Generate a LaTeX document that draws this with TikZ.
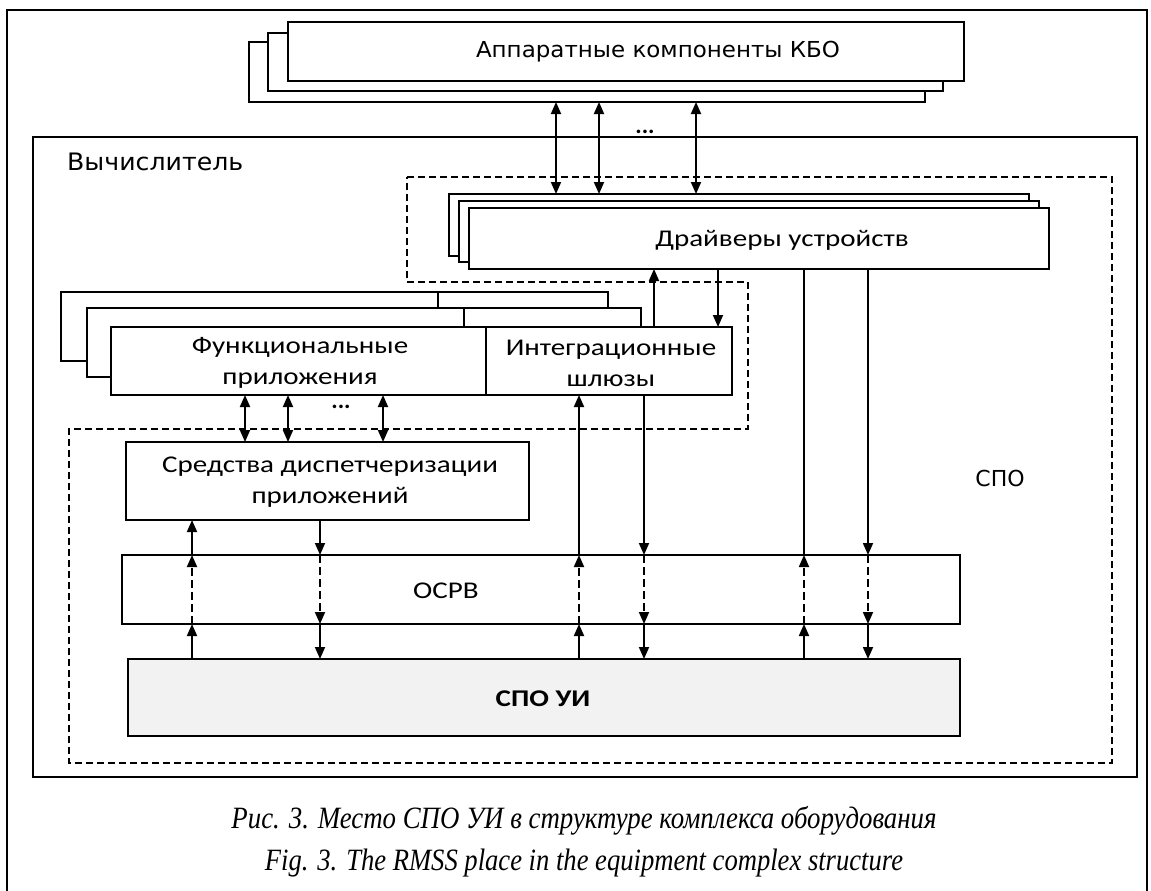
\documentclass[tikz,border=0pt]{standalone}
\usepackage{fontspec}
\setmainfont{Carlito}
\newfontfamily\dvfont{DejaVu Sans}
\newfontfamily\capfont{Liberation Serif}
\usetikzlibrary{arrows.meta}
\newcommand{\cw}[1]{\scalebox{1.21}[1]{#1}}
\newcommand{\fw}[2]{\resizebox{#1}{\height}{#2}}
\begin{document}
\begin{tikzpicture}[x=1pt,y=-1pt,
  box/.style={draw=black, line width=1.6pt, fill=white, inner sep=0pt, outer sep=0pt},
  lbl/.style={inner sep=0pt, font=\fontsize{24}{31}\selectfont, align=center},
  dvlbl/.style={inner sep=0pt, font=\dvfont\fontsize{22}{26}\selectfont},
  caplbl/.style={inner sep=0pt, font=\capfont\itshape\fontsize{31}{32}\selectfont},
  dotlbl/.style={inner sep=0pt, font=\bfseries\fontsize{24}{24}\selectfont},
  spodash/.style={draw=black, line width=2.5pt, dash pattern=on 7pt off 4pt},
  conn/.style={line width=1.8pt},
  arr/.style={conn, -{Triangle[length=12pt,width=10pt]}},
  dbl/.style={conn, {Triangle[length=12pt,width=10pt]}-{Triangle[length=12pt,width=10pt]}},
  darr/.style={arr, dash pattern=on 8pt off 4pt}
]
\useasboundingbox (0,0) rectangle (1151,891);
\fill[white] (0,0) rectangle (1151,891);
% outer frame (open at the bottom)
\draw[line width=1.6pt] (7,891) -- (7,10) -- (1147,10) -- (1147,891);

% column coordinates
\coordinate (a1) at (556,0); \coordinate (a2) at (599,0); \coordinate (a3) at (696,0);
\coordinate (f1) at (245,0); \coordinate (f2) at (288,0); \coordinate (f3) at (383,0);
\coordinate (i1) at (654,0); \coordinate (i2) at (718,0);
\coordinate (u1) at (192,0); \coordinate (d1) at (320,0);
\coordinate (u2) at (579,0); \coordinate (d2) at (644,0);
\coordinate (u3) at (804,0); \coordinate (d3) at (868,0);

% hardware stack
\node[box, minimum width=676pt, minimum height=60pt] (hw3) at (587,72) {};
\node[box, minimum width=675pt, minimum height=58pt] (hw2) at (605.5,62) {};
\node[box, minimum width=676pt, minimum height=59pt] (hw1) at (626,51.5) {};
\node[dvlbl] (hwt) at (658,52) {\fw{364pt}{Аппаратные компоненты КБО}};

% computer
\node[box, minimum width=1104pt, minimum height=640pt] (comp) at (585,457) {};
\node[dvlbl, anchor=west, font=\dvfont\fontsize{24}{26}\selectfont] (compt) at (67,162) {\fw{176pt}{Вычислитель}};

% SPO dashed region
\draw[spodash] (407,177) -- (1112,177) -- (1112,763) -- (69,763) -- (69,429)
  -- (748,429) -- (748,282) -- (407,282) -- cycle;
\node[dvlbl] (spot) at (1000,478) {СПО};

% drivers stack
\node[box, minimum width=580pt, minimum height=62pt] (dr3) at (739,225) {};
\node[box, minimum width=580pt, minimum height=61pt] (dr2) at (749,231.5) {};
\node[box, minimum width=580pt, minimum height=61pt] (dr1) at (759,238.5) {};
\node[lbl] (drt) at (782,240) {\cw{Драйверы устройств}};

% functional applications / gateways stack
\node[box, minimum width=377pt, minimum height=69pt] (fa3) at (249.5,326.5) {};
\node[box, minimum width=170pt, minimum height=69pt] (ig3) at (523,326.5) {};
\node[box, minimum width=377pt, minimum height=69pt] (fa2) at (275.5,342.5) {};
\node[box, minimum width=177pt, minimum height=69pt] (ig2) at (552.5,342.5) {};
\node[box, minimum width=375pt, minimum height=68pt] (fa1) at (298.5,361) {};
\node[box, minimum width=246pt, minimum height=68pt] (ig1) at (609,361) {};
\node[lbl] (fat) at (300,363) {\cw{Функциональные}\\\cw{приложения}};
\node[lbl] (igt) at (611,363) {\cw{Интеграционные}\\\cw{шлюзы}};

% dispatcher, OS, RMSS
\node[box, minimum width=403pt, minimum height=78pt] (disp) at (327.5,481) {};
\node[lbl] (dispt) at (330,482) {\cw{Средства диспетчеризации}\\\cw{приложений}};
\node[box, minimum width=838pt, minimum height=69pt] (osrv) at (541,589.5) {};
\node[lbl] (osrvt) at (446,591) {\cw{ОСРВ}};
\node[box, fill={rgb,255:red,242;green,242;blue,242}, minimum width=832pt, minimum height=77pt] (spoui) at (544,697.5) {};
\node[lbl, font=\bfseries\fontsize{24}{26}\selectfont] (spouit) at (543,699) {\cw{СПО УИ}};

% hardware <-> drivers
\draw[dbl] (hw3.south -| a1) -- (dr3.north -| a1);
\draw[dbl] (hw3.south -| a2) -- (dr3.north -| a2);
\draw[dbl] (hw3.south -| a3) -- (dr3.north -| a3);
\node[dotlbl] (dots1) at (645,132) {...};

% gateways <-> drivers
\draw[arr] (ig1.north -| i1) -- (dr1.south -| i1);
\draw[arr] (dr1.south -| i2) -- (ig1.north -| i2);

% applications <-> dispatcher
\draw[dbl] (fa1.south -| f1) -- (disp.north -| f1);
\draw[dbl] (fa1.south -| f2) -- (disp.north -| f2);
\draw[dbl] (fa1.south -| f3) -- (disp.north -| f3);
\node[dotlbl] (dots2) at (341,407) {...};

% RMSS -> OSRV (bottom segments)
\draw[arr] (spoui.north -| u1) -- (osrv.south -| u1);
\draw[arr] (osrv.south -| d1) -- (spoui.north -| d1);
\draw[arr] (spoui.north -| u2) -- (osrv.south -| u2);
\draw[arr] (osrv.south -| d2) -- (spoui.north -| d2);
\draw[arr] (spoui.north -| u3) -- (osrv.south -| u3);
\draw[arr] (osrv.south -| d3) -- (spoui.north -| d3);

% through OSRV (dashed)
\draw[darr] (osrv.south -| u1) -- (osrv.north -| u1);
\draw[darr] (osrv.north -| d1) -- (osrv.south -| d1);
\draw[darr] (osrv.south -| u2) -- (osrv.north -| u2);
\draw[darr] (osrv.north -| d2) -- (osrv.south -| d2);
\draw[darr] (osrv.south -| u3) -- (osrv.north -| u3);
\draw[darr] (osrv.north -| d3) -- (osrv.south -| d3);

% upper segments
\draw[arr] (osrv.north -| u1) -- (disp.south -| u1);
\draw[arr] (disp.south -| d1) -- (osrv.north -| d1);
\draw[arr] (osrv.north -| u2) -- (ig1.south -| u2);
\draw[arr] (ig1.south -| d2) -- (osrv.north -| d2);
\draw[conn] (osrv.north -| u3) -- (dr1.south -| u3);
\draw[arr] (dr1.south -| d3) -- (osrv.north -| d3);

% captions
\node[caplbl] (cap1) at (584,821) {\fw{705pt}{Рис. 3. Место СПО УИ в структуре комплекса оборудования}};
\node[caplbl] (cap2) at (584,863) {\fw{638pt}{Fig. 3. The RMSS place in the equipment complex structure}};
\end{tikzpicture}
\end{document}
